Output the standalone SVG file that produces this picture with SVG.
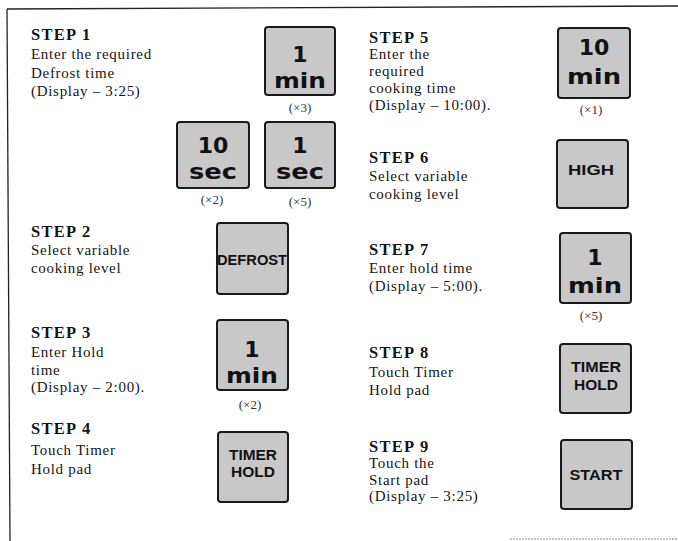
<svg xmlns="http://www.w3.org/2000/svg" width="678" height="541" viewBox="0 0 678 541">
<style>
.t{font-family:"Liberation Serif","Times New Roman",serif;fill:#151515}
.h{font-size:16.5px;font-weight:bold;letter-spacing:1.3px}
.b{font-size:15px;letter-spacing:0.7px}
.m{font-size:13px;fill:#333;text-anchor:middle}
.key{fill:#c8c8c8;stroke:#1a1a1a;stroke-width:2;rx:3}
.n{font-family:"DejaVu Sans","Liberation Sans",sans-serif;font-weight:bold;font-size:22px;fill:#111;text-anchor:middle}
.u{font-family:"DejaVu Sans","Liberation Sans",sans-serif;font-weight:bold;font-size:21px;fill:#111;text-anchor:middle}
.w{font-family:"Liberation Sans",Arial,sans-serif;font-weight:bold;font-size:14px;fill:#111;text-anchor:middle}
.frame{stroke:#222;stroke-width:1.3;fill:none}
</style>
<g id="frame">
<line class="frame" x1="7" y1="9" x2="678" y2="6"/>
<line class="frame" x1="7" y1="9" x2="10" y2="541"/>
<line x1="510" y1="539" x2="678" y2="539" stroke="#888" stroke-width="1" stroke-dasharray="2 1"/>
</g>
<g id="step1">
<text class="t h" x="31" y="40">STEP 1</text>
<text class="t b" x="31" y="59">Enter the required</text>
<text class="t b" x="31" y="78">Defrost time</text>
<text class="t b" x="31" y="96">(Display – 3:25)</text>
</g>
<g id="key-1min-a">
<rect class="key" x="265" y="27" width="70" height="68"/>
<text class="n" x="300" y="62">1</text>
<text class="u" x="300" y="88" textLength="52" lengthAdjust="spacingAndGlyphs">min</text>
<text class="t m" x="300" y="112">(×3)</text>
</g>
<g id="key-10sec">
<rect class="key" x="177" y="122" width="72" height="66"/>
<text class="n" x="213" y="153">10</text>
<text class="u" x="213" y="179" textLength="48" lengthAdjust="spacingAndGlyphs">sec</text>
<text class="t m" x="212" y="204">(×2)</text>
</g>
<g id="key-1sec">
<rect class="key" x="265" y="122" width="70" height="66"/>
<text class="n" x="300" y="153">1</text>
<text class="u" x="300" y="179" textLength="48" lengthAdjust="spacingAndGlyphs">sec</text>
<text class="t m" x="300" y="206">(×5)</text>
</g>
<g id="step2">
<text class="t h" x="31" y="237">STEP 2</text>
<text class="t b" x="31" y="255">Select variable</text>
<text class="t b" x="31" y="273">cooking level</text>
</g>
<g id="key-defrost">
<rect class="key" x="217" y="223" width="71" height="71"/>
<text class="w" x="252" y="265" textLength="70" lengthAdjust="spacingAndGlyphs">DEFROST</text>
</g>
<g id="step3">
<text class="t h" x="31" y="338">STEP 3</text>
<text class="t b" x="31" y="357">Enter Hold</text>
<text class="t b" x="31" y="375">time</text>
<text class="t b" x="31" y="392">(Display – 2:00).</text>
</g>
<g id="key-1min-b">
<rect class="key" x="217" y="320" width="71" height="70"/>
<text class="n" x="252" y="357">1</text>
<text class="u" x="252" y="383" textLength="52" lengthAdjust="spacingAndGlyphs">min</text>
<text class="t m" x="250" y="409">(×2)</text>
</g>
<g id="step4">
<text class="t h" x="31" y="434">STEP 4</text>
<text class="t b" x="31" y="455">Touch Timer</text>
<text class="t b" x="31" y="474">Hold pad</text>
</g>
<g id="key-timerhold-a">
<rect class="key" x="218" y="432" width="70" height="70"/>
<text class="w" x="253" y="460" textLength="48" lengthAdjust="spacingAndGlyphs">TIMER</text>
<text class="w" x="253" y="477" textLength="44" lengthAdjust="spacingAndGlyphs">HOLD</text>
</g>
<g id="step5">
<text class="t h" x="369" y="43">STEP 5</text>
<text class="t b" x="369" y="59">Enter the</text>
<text class="t b" x="369" y="76">required</text>
<text class="t b" x="369" y="93">cooking time</text>
<text class="t b" x="369" y="110">(Display – 10:00).</text>
</g>
<g id="key-10min">
<rect class="key" x="558" y="28" width="72" height="70"/>
<text class="n" x="594" y="55">10</text>
<text class="u" x="594" y="84" textLength="54" lengthAdjust="spacingAndGlyphs">min</text>
<text class="t m" x="591" y="114">(×1)</text>
</g>
<g id="step6">
<text class="t h" x="369" y="163">STEP 6</text>
<text class="t b" x="369" y="181">Select variable</text>
<text class="t b" x="369" y="199">cooking level</text>
</g>
<g id="key-high">
<rect class="key" x="557" y="140" width="71" height="68"/>
<text class="w" x="591" y="175" textLength="46" lengthAdjust="spacingAndGlyphs">HIGH</text>
</g>
<g id="step7">
<text class="t h" x="369" y="255">STEP 7</text>
<text class="t b" x="369" y="273">Enter hold time</text>
<text class="t b" x="369" y="291">(Display – 5:00).</text>
</g>
<g id="key-1min-c">
<rect class="key" x="560" y="233" width="71" height="70"/>
<text class="n" x="595" y="265">1</text>
<text class="u" x="595" y="293" textLength="54" lengthAdjust="spacingAndGlyphs">min</text>
<text class="t m" x="591" y="320">(×5)</text>
</g>
<g id="step8">
<text class="t h" x="369" y="358">STEP 8</text>
<text class="t b" x="369" y="377">Touch Timer</text>
<text class="t b" x="369" y="395">Hold pad</text>
</g>
<g id="key-timerhold-b">
<rect class="key" x="560" y="344" width="71" height="69"/>
<text class="w" x="596" y="372" textLength="50" lengthAdjust="spacingAndGlyphs">TIMER</text>
<text class="w" x="596" y="390" textLength="44" lengthAdjust="spacingAndGlyphs">HOLD</text>
</g>
<g id="step9">
<text class="t h" x="369" y="452">STEP 9</text>
<text class="t b" x="369" y="468">Touch the</text>
<text class="t b" x="369" y="485">Start pad</text>
<text class="t b" x="369" y="501">(Display – 3:25)</text>
</g>
<g id="key-start">
<rect class="key" x="561" y="440" width="71" height="69"/>
<text class="w" x="596" y="480" textLength="53" lengthAdjust="spacingAndGlyphs">START</text>
</g>
<g id="connectors"></g>
</svg>
